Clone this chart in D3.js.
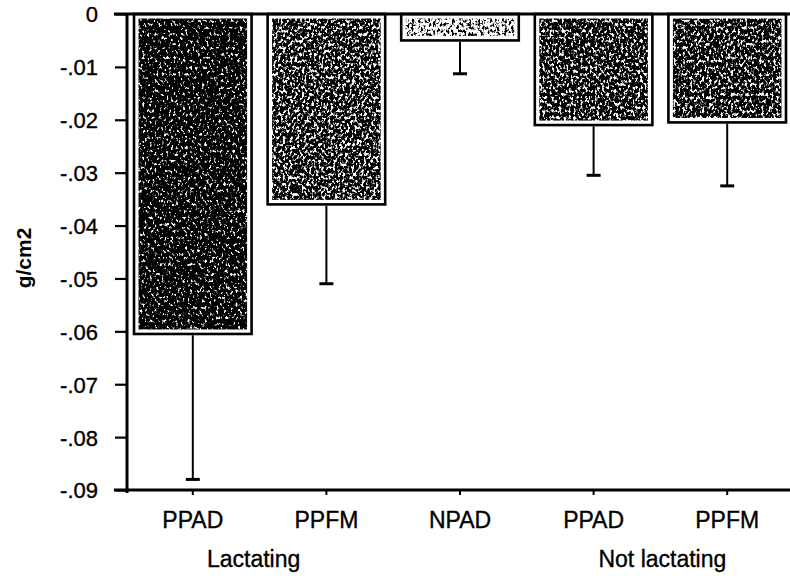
<!DOCTYPE html>
<html>
<head>
<meta charset="utf-8">
<script src="https://cdn.jsdelivr.net/npm/d3@7/dist/d3.min.js"></script>
<style>
  html, body { margin: 0; padding: 0; background: #fff; }
  svg { display: block; font-family: "Liberation Sans", Arial, Helvetica, sans-serif; }
</style>
</head>
<body>
<svg id="chart" width="790" height="576"></svg>
<script>
// Change in bone density (g/cm2) by site and lactation status
const categories = ["PPAD", "PPFM", "NPAD", "PPAD", "PPFM"];
const means      = [-0.0605, -0.036, -0.005, -0.021, -0.0205];
const errorEnds  = [-0.088, -0.051, -0.0113, -0.0305, -0.0325];
const groupLabels  = ["Lactating", "Not lactating"];
const groupMembers = [[0, 1], [3, 4]];
const yTickValues = [0, -0.01, -0.02, -0.03, -0.04, -0.05, -0.06, -0.07, -0.08, -0.09];
const yTickLabels = ["0", "-.01", "-.02", "-.03", "-.04", "-.05", "-.06", "-.07", "-.08", "-.09"];
const yAxisTitle = "g/cm2";

// stipple darkness per bar (threshold on the grain noise)
const grainThreshold = [0.35, 0.425, 0.56, 0.41, 0.41];

const svg = d3.select("#chart");
const W = 790, H = 576;
const plot = { left: 126, right: 794, top: 14, bottom: 490 };

const x = d3.scaleBand()
  .domain(d3.range(categories.length))
  .range([plot.left, plot.right])
  .paddingInner(0.12)
  .paddingOuter(0.06);

const y = d3.scaleLinear()
  .domain([-0.09, 0])
  .range([plot.bottom, plot.top]);

// grain filters for the stippled bar fill
const defs = svg.append("defs");
grainThreshold.forEach((t, i) => {
  const K = 7;
  const f = defs.append("filter")
    .attr("id", "grain" + i)
    .attr("x", 0).attr("y", 0).attr("width", 1).attr("height", 1)
    .attr("color-interpolation-filters", "sRGB");
  f.append("feTurbulence")
    .attr("type", "fractalNoise")
    .attr("baseFrequency", "0.42 0.3")
    .attr("numOctaves", 4)
    .attr("seed", 7 + i * 13)
    .attr("result", "noise");
  f.append("feColorMatrix")
    .attr("in", "noise")
    .attr("type", "matrix")
    .attr("values", `0 0 0 0 0  0 0 0 0 0  0 0 0 0 0  ${K} 0 0 0 ${(-K * t + 0.5).toFixed(3)}`)
    .attr("result", "mask");
  f.append("feComposite")
    .attr("in", "SourceGraphic")
    .attr("in2", "mask")
    .attr("operator", "in");
});

// bars
const bars = svg.append("g").attr("class", "bars");
categories.forEach((c, i) => {
  const x0 = x(i), bw = x.bandwidth();
  const y0 = y(0), y1 = y(means[i]);
  bars.append("rect")
    .attr("x", x0).attr("y", y0)
    .attr("width", bw).attr("height", y1 - y0)
    .attr("fill", "#fff")
    .attr("stroke", "#000")
    .attr("stroke-width", 2.6);
  const inset = 4.5;
  if (y1 - y0 - 2 * inset > 0) {
    bars.append("rect")
      .attr("x", x0 + inset).attr("y", y0 + inset)
      .attr("width", bw - 2 * inset).attr("height", y1 - y0 - 2 * inset)
      .attr("fill", "#000")
      .attr("filter", `url(#grain${i})`);
  }
});

// error bars
const err = svg.append("g").attr("class", "errors").attr("stroke", "#000");
categories.forEach((c, i) => {
  const cx = x(i) + x.bandwidth() / 2;
  err.append("line")
    .attr("x1", cx).attr("x2", cx)
    .attr("y1", y(means[i]) + 1.3).attr("y2", y(errorEnds[i]))
    .attr("stroke-width", 2);
  err.append("line")
    .attr("x1", cx - 7).attr("x2", cx + 7)
    .attr("y1", y(errorEnds[i])).attr("y2", y(errorEnds[i]))
    .attr("stroke-width", 3);
});

// y axis
const yAxis = d3.axisLeft(y)
  .tickValues(yTickValues)
  .tickFormat((d, i) => yTickLabels[i])
  .tickSizeInner(12)
  .tickSizeOuter(0)
  .tickPadding(17);
const gy = svg.append("g")
  .attr("transform", `translate(${plot.left + 1},0)`)
  .call(yAxis);
gy.select(".domain").attr("stroke-width", 3).attr("d", `M0,${plot.top - 1}V${plot.bottom + 3}`);
gy.selectAll(".tick line").attr("stroke-width", 2.2);
gy.selectAll(".tick text")
  .attr("font-size", 22)
  .attr("fill", "#000")
  .attr("stroke", "#000")
  .attr("stroke-width", 0.35)
  .attr("dy", "0.36em");

// x axis along the bottom
const xAxis = d3.axisBottom(x)
  .tickFormat(i => categories[i])
  .tickSizeInner(5)
  .tickSizeOuter(0)
  .tickPadding(17);
const gx = svg.append("g")
  .attr("transform", `translate(0,${plot.bottom})`)
  .call(xAxis);
gx.select(".domain").attr("stroke-width", 3).attr("d", `M${plot.left - 12},0H${W}`);
gx.selectAll(".tick line").attr("stroke-width", 2);
gx.selectAll(".tick text")
  .attr("font-size", 23)
  .attr("fill", "#000")
  .attr("stroke", "#000")
  .attr("stroke-width", 0.35);

// zero line across the top
svg.append("line")
  .attr("x1", plot.left - 12).attr("x2", W)
  .attr("y1", y(0)).attr("y2", y(0))
  .attr("stroke", "#000").attr("stroke-width", 3);

// group labels under the category names
groupMembers.forEach((m, gi) => {
  const cx = d3.mean(m, i => x(i) + x.bandwidth() / 2);
  svg.append("text")
    .attr("x", gi === 0 ? cx - 6 : cx + 2)
    .attr("y", 567)
    .attr("text-anchor", "middle")
    .attr("font-size", 23)
    .attr("fill", "#000")
    .attr("stroke", "#000")
    .attr("stroke-width", 0.35)
    .text(groupLabels[gi]);
});

// y axis title
svg.append("text")
  .attr("transform", `translate(31,258) rotate(-90)`)
  .attr("text-anchor", "middle")
  .attr("font-size", 21)
  .attr("font-weight", "bold")
  .attr("fill", "#000")
  .text(yAxisTitle);
</script>
</body>
</html>
